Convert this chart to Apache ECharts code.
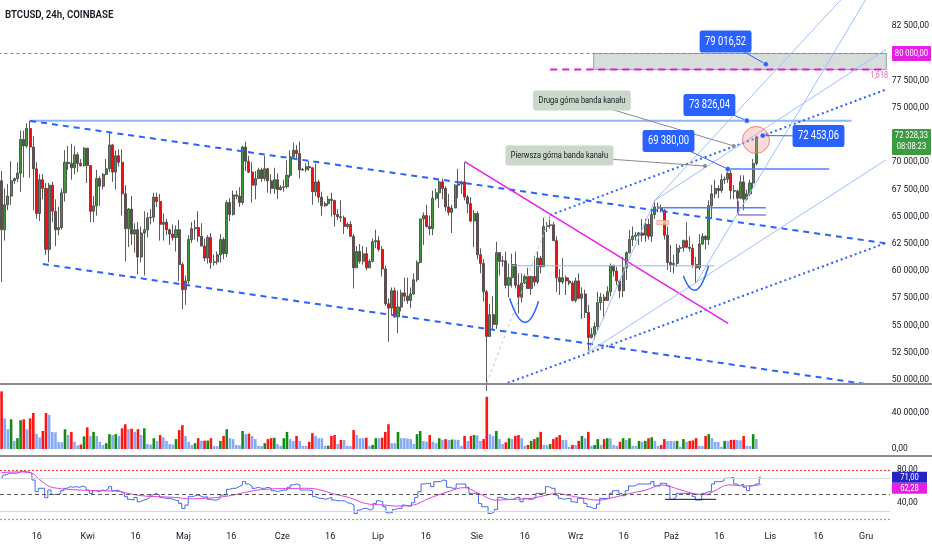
<!DOCTYPE html>
<html><head><meta charset="utf-8">
<script src="https://cdn.jsdelivr.net/npm/echarts@6/dist/echarts.min.js"></script>
<style>html,body{margin:0;padding:0;background:#fff}#c{width:932px;height:550px}</style>
</head><body><div id="c"></div>
<script>
// ---------- DATA ----------
const symbolTitle = 'BTCUSD, 24h, COINBASE';
const totalSlots = 279; // Mar 5 2024 .. Dec 8 2024 (daily slots, incl. empty future)
const monthNames = ['Sty','Lut','Mar','Kwi','Maj','Cze','Lip','Sie','Wrz','Paź','Lis','Gru'];
const priceTicks = [50000,52500,55000,57500,60000,62500,65000,67500,70000,72500,75000,77500,80000,82500];
const volumeTicks = [0,40000];
const rsiTicks = [40,80];
const rsiLevels = [80,70,50,30,20];

// [open, high, low, close] daily, 2024-03-05 .. 2024-10-29
const candles = [
[68300,69200,59000,63800],[63800,67600,62800,66100],[66100,68000,65600,66900],[66900,70100,66100,68300],[68300,68600,68000,68500],
[68500,70000,68200,69000],[69000,72900,67300,72100],[72100,72900,68600,71500],[71500,73600,71300,73100],[73100,73835,68600,71400],
[71400,72400,65600,69400],[69400,70000,64800,65300],[65300,68900,64600,68400],[68400,68900,66600,67600],[67600,68100,61500,62000],
[62000,68100,60800,67900],[67900,68200,64500,65500],[65500,66600,62300,63800],[63800,65900,63300,64000],[64000,67600,63800,67200],
[67200,71100,66400,70000],[70000,71500,69300,69900],[69900,71700,68400,69500],[69500,71500,68900,70700],[70700,70900,69100,69900],
[69900,70300,69600,69700],[69700,71400,69600,71300],
[71300,71300,68100,69700],[69700,69700,64500,65500],[65500,66900,64500,66000],[66000,69300,65100,68500],[68500,68700,66000,67800],
[67800,69000,67500,68900],[68900,70300,68800,69400],[69400,72700,69100,71600],[71600,71700,68200,69100],[69100,71100,67500,70600],
[70600,71200,69600,70000],[70000,71200,65100,67100],[67100,67900,60900,63900],[63900,65800,62200,65700],[65700,66900,62400,63400],
[63400,64400,61700,63800],[63800,64500,59700,61300],[61300,64100,60800,63500],[63500,65500,59600,63800],[63800,65400,63100,64900],
[64900,65700,64300,64950],[64950,67200,64500,66800],[66800,67200,65900,66400],[66400,67100,62800,64300],[64300,65300,62800,64500],
[64500,64800,63300,63800],[63800,63900,62400,63400],[63400,64300,62800,63100],[63100,64200,61800,63800],[63800,64700,59100,60600],
[60600,60800,56500,58300],[58300,59600,56900,59100],[59100,63300,58800,62900],[62900,64500,62600,63900],[63900,64700,62900,64000],
[64000,65500,62700,63200],[63200,64400,62300,62300],[62300,63000,60900,61200],[61200,63300,60700,63100],[63100,63500,60200,60800],
[60800,61500,60500,60850],[60850,61800,60600,61500],[61500,63400,60800,62900],[62900,63100,61100,61600],[61600,66500,61300,66300],
[66300,66700,64600,65200],[65200,67400,65100,67000],[67000,67400,66600,66900],[66900,67700,65900,66300],[66300,71500,66100,71400],
[71400,71900,69200,70100],[70100,70600,69000,69100],[69100,70000,66300,67900],[67900,69200,66600,68500],[68500,69500,68500,69300],
[69300,69500,68200,68500],[68500,70600,68300,69400],[69400,69500,67200,68300],[68300,68900,67100,67600],[67600,69500,67100,68400],
[68400,69000,66600,67500],
[67500,67900,67400,67700],[67700,68400,67300,67750],[67750,70200,67600,68800],[68800,71100,68600,70500],[70500,71800,70400,71100],
[71100,71600,70200,70800],[70800,71900,68500,69300],[69300,69500,69200,69350],[69350,69900,69100,69600],[69600,70100,69200,69500],
[69500,69500,66100,67300],[67300,69900,66900,68200],[68200,68400,66300,66800],[66800,67300,65100,66000],[66000,66400,65900,66200],
[66200,66900,66000,66600],[66600,67200,65000,66500],[66500,66500,64100,65200],[65200,65700,64700,65000],[65000,66500,64500,64900],
[64900,65100,63400,64100],[64100,64500,63900,64300],[64300,64600,63200,63200],[63200,63400,58400,60300],[60300,62300,60300,61800],
[61800,62500,60700,60900],[60900,62300,60600,61600],[61600,62200,60100,60300],[60300,61100,60300,60900],[60900,63000,60800,62700],
[62700,63800,62100,62800],[62800,63200,61800,62000],[62000,62300,59500,60200],[60200,60500,56800,57000],[57000,57500,53500,56600],
[56600,58500,56000,58200],[58200,58500,55700,55800],[55800,58200,54300,56700],[56700,58300,56300,58000],[58000,59400,57200,57700],
[57700,59400,57000,57300],[57300,58500,56600,57900],[57900,59800,57800,59200],[59200,61000,59000,60800],[60800,64800,60700,64800],
[64800,65400,62400,65100],[65100,66100,64000,64100],[64100,65100,63300,63900],[63900,67400,63300,66700],[66700,67600,66500,67200],
[67200,68400,65800,68200],[68200,68500,66600,67600],[67600,67800,65500,65900],[65900,67100,65100,65400],[65400,66100,63500,65800],
[65800,68000,65800,67900],[67900,69400,66700,68000],[68000,68300,67100,68200],[68200,70000,66500,66800],[66800,67000,65300,66200],
[66200,66800,64500,64600],
[64600,65600,62200,65300],[65300,65500,61100,61500],[61500,62100,59800,60700],[60700,61100,57200,58100],[58100,58300,49000,54000],
[54000,57000,54000,56000],[56000,57700,54600,55100],[55100,62700,54700,61700],[61700,61700,59600,60900],[60900,61400,60400,60950],
[60950,61800,58400,58700],[58700,60700,57600,59400],[59400,61600,58500,60600],[60600,61800,58400,58700],[58700,59800,56100,57600],
[57600,59800,57100,58900],[58900,59700,58800,59500],[59500,60300,58400,58400],[58400,59600,57800,59500],[59500,61400,58600,59000],
[59000,61800,58800,61200],[61200,61400,59800,60400],[60400,64900,60400,64100],[64100,64500,63600,64200],[64200,65000,63900,64250],
[64250,64500,62800,62800],[62800,63200,58100,59400],[59400,60200,57800,59000],[59000,61200,58800,59400],[59400,59600,57800,59100],
[59100,59400,58700,58900],
[58900,59100,57200,57300],[57300,59400,57100,59100],[59100,59800,57400,57500],[57500,58500,55600,57900],[57900,58300,55700,56200],
[56200,56900,52600,53900],[53900,54800,53800,54200],[54200,55300,53700,54900],[54900,58100,54600,57100],[57100,58000,56400,57600],
[57600,57900,55600,57300],[57300,58600,57300,58100],[58100,60700,57700,60500],[60500,60600,59500,60000],[60000,60400,58700,59100],
[59100,59200,57500,58200],[58200,61300,57600,60300],[60300,61800,59200,61700],[61700,63800,61600,62900],[62900,64100,62300,63200],
[63200,63600,62800,63300],[63300,63600,62400,63500],[63500,64800,62700,63300],[63300,64800,62700,64300],[64300,64800,62900,63200],
[63200,65800,62700,65200],[65200,66500,64800,65900],[65900,66300,65400,65800],[65800,66100,65400,65600],[65600,65700,62900,63300],
[63300,64100,60100,60800],[60800,62400,59900,60600],[60600,61500,59800,60700],[60700,62500,60400,62100],[62100,62400,61700,62150],
[62150,62900,61800,62800],[62800,64500,62100,62200],[62200,63200,61800,62100],[62100,62500,60300,60600],[60600,61300,58900,60300],
[60300,63400,60100,62500],[62500,63500,62400,63200],[63200,63300,62000,62900],[62900,66500,62400,66000],[66000,67900,64800,67100],
[67100,68400,66700,67600],[67600,67900,66700,67400],[67400,68900,67200,68400],[68400,68700,68000,68450],[68450,69400,68100,69000],
[69000,69400,66600,67400],[67400,67900,66600,67350],[67350,67500,65300,66700],[66700,68800,66600,68200],[68200,68800,65600,66600],
[66600,67500,66500,67100],[67100,68400,66900,68100],[68100,70300,67600,69900],[69900,72453.06,69700,72328.33]
];

const volume = [
64000,34000,22000,33000,9000,12000,32000,33000,22000,34000,
40000,17000,13000,20000,40000,38000,19000,18500,8000,7500,
22000,15500,19000,8000,4000,5000,14000,24000,14500,19000,
14500,8000,4500,6500,16500,15500,16500,14500,23000,27500,
22000,22500,19000,22000,15500,23000,5500,5000,12000,9000,
15500,13000,9000,5500,5000,11000,21000,26500,14500,8000,
4500,6500,12000,9000,9200,9400,12000,3500,3200,9000,
14500,22000,12000,11000,4500,4200,20000,16500,17000,14500,
11000,3500,3300,6500,11000,12000,12500,5500,3500,12000,
19000,11000,9000,14500,9000,3500,3300,8000,17500,14500,
12000,12000,3500,3700,14500,15500,5500,10000,10000,3500,
3300,21000,15500,12000,12000,12500,3500,4500,12000,12000,
12500,19000,27500,6500,6500,19000,12000,12000,11500,11000,
5500,16500,20000,9000,8000,15500,8000,6500,12000,10000,
11000,10000,10500,10500,10000,3500,14500,9000,14500,15500,
15000,9000,11000,58000,16500,14500,20000,11000,5500,7500,
12000,11000,14500,15500,12000,3500,4500,9000,11000,13000,
19000,4500,4300,5500,11000,13000,15500,10000,9800,2500,
4500,4300,9000,14500,12000,19000,3500,4500,11000,4500,
11000,12000,11800,4500,3500,8000,12000,10000,12000,3500,
3300,9000,8000,9000,12000,13000,9000,3500,4500,11000,
9000,8800,8600,9000,2500,11000,8000,9000,9500,12000,
3500,3300,14500,16500,12000,8000,7800,2500,9000,8800,
10000,10200,10000,9500,14500,3500,3300,16500,11000
];

const rsi = [
69.8,73.8,75.8,75.8,75.8,76.6,78.6,77.4,77.4,75.8,
67.7,53.6,57.7,57.7,46.4,55.6,50.4,50.4,51.6,54.8,
57.7,59.7,58.9,59.7,58.9,60.5,58.9,55.6,51.6,54.8,
53.6,55.6,54.8,56.9,59.7,54.8,55.6,53.6,51.6,47.6,
44.4,43.5,46.8,41.5,43.5,44.4,46.8,49.6,51.6,49.6,
46.8,45.6,45.6,44.8,43.5,42.7,39.5,33.5,37.5,47.6,
48.4,49.6,48.4,46.8,47.6,44.4,43.5,43.5,45.6,49.6,
49.6,56.5,57.7,57.7,59.7,61.7,65.7,62.9,60.5,57.7,
58.9,57.7,57.7,58.9,57.7,54.8,53.6,54.8,55.6,55.6,
58.9,61.7,62.9,61.7,55.6,55.6,55.6,54.8,47.6,45.6,
45.6,44.4,45.6,46.8,43.5,42.7,42.7,42.7,40.3,39.5,
37.5,27.4,31.5,33.5,33.5,31.5,33.5,39.5,42.7,41.5,
35.5,28.2,28.2,32.3,33.5,33.5,37.5,36.3,36.3,40.3,
46.8,53.6,62.9,63.7,63.7,59.7,65.7,65.7,67.7,66.9,
58.9,57.7,57.7,62.9,62.9,62.9,58.9,51.6,51.6,51.6,
39.5,35.5,35.5,27.4,29.4,32.3,46.8,45.6,44.4,44.4,
44.4,46.8,46.8,41.5,45.6,44.4,44.4,46.8,51.6,51.6,
51.6,59.7,57.7,57.7,49.6,45.6,44.4,45.6,45.6,41.5,
40.3,45.6,45.6,39.5,35.5,33.5,33.5,38.7,45.6,45.6,
45.6,51.6,54.8,54.8,51.6,48.8,54.8,60.5,60.5,62.9,
62.9,62.9,62.9,62.9,65.7,60.5,60.5,63.7,63.7,60.5,
44.4,46.8,51.6,51.6,51.6,51.6,51.6,47.6,43.5,43.5,
51.6,53.6,53.6,62.9,65.7,65.7,66.9,69.8,69.8,71.0,
62.9,60.5,62.9,58.9,54.8,60.5,62.9,62.9,71.0
];

// RSI moving average, read at sample days
const rsiMaDays = [0,5,9,12,15,18,21,25,29,33,37,41,45,50,55,59,63,67,71,75,79,83,87,91,95,99,104,109,114,120,124,129,134,140,145,147,150,155,160,166,171,174,177,181,187,192,197,202,207,213,218,221,223,228,234,238];
const rsiMaValues = [76.6,77.4,76.6,68,60,57.5,56.5,55.5,55,54.6,53.8,50.5,48.4,47.5,46.5,45,45.6,46.5,48.4,51.6,54.8,56.5,57.3,57.5,57.7,56.5,51,46.5,39.5,37.5,36.3,37.5,45.6,53.6,58.5,56.5,50.8,43.5,44.4,45.6,49.6,51.6,49.6,46.8,43.5,46.8,51.6,55.6,61.7,55.6,50.8,50.4,53.6,61.7,60.5,62.28];

const lastPrice = 72328.33, countdown = '08:08:23';
const rsiLast = 71.00, rsiMaLast = 62.28;
const fibLevel = 80000, fibLabel = '1,618';

// drawings, in [day index, price]
const athLine = [[9,73826.04],[268,73826.04]];
const level69380 = [[229,69380],[261,69380]];
const channelUpper = [[9,73800],[279,62550]];
const channelLower = [[13,60650],[273,49600]];
const bandUpper = [[173,65150],[279,76700]];
const bandLower = [[159.6,49720],[279,62600]];
const magentaTrend = [[146,70055],[229.1,55204]];
const level80000 = [[-1,80000],[279,80000]];
const fib1618 = [[173,78530],[279,78530]];
const level60490 = [[160.5,60490],[224.8,60490]];
const level65830 = [[206.6,65830],[241,65830]];
const purpleBox = [[232.3,66440],[232.3,65157],[241,65157]];
const fanLines = [
  [[185,52550],[279,70250]],
  [[206,66500],[279,80400]],
  [[219,58900],[272.4,84915]],
  [[206,66500],[264.6,84915]],
  [[185,52550],[206,66500]]
];
const grayGuide = [[153,49700],[173,65000]];
const zone = {d1:186.7, d2:279, p1:78530, p2:80000};
const hotCircle = [237.9,72050];
const cups = [
  [[160.2,57514],[164.9,55308],[169.3,57238]],
  [[215,59557],[219,58270],[222.9,60476]]
];
const smallTag = [208.5,64460];
const blueCallouts = [
  {text:'79 016,52', point:[241,79016.52], box:[228.3,81100]},
  {text:'73 826,04', point:[235,73826.04], box:[223.2,75266]},
  {text:'69 380,00', point:[229,69380], box:[210.3,71957]},
  {text:'72 453,06', point:[240,72453.06], box:[257.6,72417]}
];
const noteCallouts = [
  {text:'Druga górna banda kanału', point:[230.9,71500], box:[183,75680]},
  {text:'Pierwsza górna banda kanału', point:[221.8,69660], box:[175.9,70625]}
];
const rsiFloor = [[208,44.4],[224,44.4]];

// ---------- BUILD ----------
const dates = [];
(function(){ const t0 = Date.UTC(2024,2,5); for (let i=0;i<totalSlots;i++) dates.push(new Date(t0+i*86400000).toISOString().slice(0,10)); })();
function fmt(v){ const s = Number(v).toFixed(2).split('.'); return s[0].replace(/\B(?=(\d{3})+(?!\d))/g,' ') + ',' + s[1]; }
function dateLabel(v){ const d = +v.slice(8), m = +v.slice(5,7); return d===1 ? monthNames[m-1] : (d===16 ? '16' : ''); }
const FONT = "'Roboto',sans-serif";
const TXT = '#131722';
const NARROW = 0.8; // horizontal squeeze to mimic the condensed UI font

const candleData = candles.map(c => [c[0], c[3], c[2], c[1]]);

function seg(points, lineStyle, z){
  return {type:'line', xAxisIndex:1, yAxisIndex:0, data:points, symbol:'none', silent:true,
          animation:false, lineStyle:lineStyle, z:z||3, clip:true};
}

const series = [
  {type:'candlestick', xAxisIndex:0, yAxisIndex:0, data:candleData, barWidth:'80%',
   itemStyle:{color:'#3c9a3c', color0:'#f01010', borderColor:'#4a4a4a', borderColor0:'#4a4a4a', borderWidth:0.9}, z:2},
  seg(athLine, {color:'#8cb6f8', width:2}),
  seg(level69380, {color:'#4f84f7', width:1.5}),
  seg(channelUpper, {color:'#2962ff', width:2, type:[6,5]}),
  seg(channelLower, {color:'#2962ff', width:2, type:[6,5]}),
  seg(bandUpper, {color:'#2962ff', width:2, type:[2,3]}),
  seg(bandLower, {color:'#2962ff', width:2, type:[2,3]}),
  seg(magentaTrend, {color:'#e81ee6', width:1.5}),
  seg(level80000, {color:'#d64ad6', width:1, type:[3,3]}),
  seg(fib1618, {color:'#e01fd0', width:2, type:[7,5]}),
  seg(level60490, {color:'#8cb6f8', width:1}),
  seg(level65830, {color:'#4f84f7', width:1.5}),
  seg(purpleBox, {color:'#5e3fa8', width:1}),
  seg(grayGuide, {color:'#c8c8c8', width:1, type:[3,3]})
].concat(fanLines.map(f => seg(f, {color:'#9cc0fa', width:1})));

series.push({type:'bar', xAxisIndex:2, yAxisIndex:1, data:volume, barWidth:'82%', animation:false,
  itemStyle:{color: p => { const i = p.dataIndex; const up = candles[i][3] >= candles[i][0];
     if (i===0 || volume[i] > volume[i-1]) return up ? '#168a16' : '#ff1414'; return '#86aaf7'; }}});

series.push({type:'line', xAxisIndex:3, yAxisIndex:2, data:rsi, step:'middle', symbol:'none', animation:false,
  lineStyle:{color:'#4169f0', width:1}, z:3,
  markLine:{silent:true, symbol:['none','none'], label:{show:false}, animation:false,
    data:[
      {yAxis:rsiLevels[0], lineStyle:{color:'#f23645', type:[2,2], width:1.2}},
      {yAxis:rsiLevels[1], lineStyle:{color:'#d6d6d6', type:'solid', width:1}},
      {yAxis:rsiLevels[2], lineStyle:{color:'#555', type:[4,3], width:1.2}},
      {yAxis:rsiLevels[3], lineStyle:{color:'#d6d6d6', type:'solid', width:1}},
      {yAxis:rsiLevels[4], lineStyle:{color:'#3ee03e', type:[2,2], width:1.2}}
    ]}});
series.push({type:'line', xAxisIndex:3, yAxisIndex:2, data:rsiMaDays.map((d,i)=>[d, rsiMaValues[i]]),
  smooth:0.4, symbol:'none', animation:false, lineStyle:{color:'#e040e6', width:1}, z:4});
series.push({type:'line', xAxisIndex:3, yAxisIndex:2, data:rsiFloor, symbol:'none', animation:false,
  lineStyle:{color:'#131722', width:1}, z:5});

const hiddenCat = gi => ({type:'category', gridIndex:gi, data:dates, boundaryGap:true, show:false});
const yBase = (gi, min, max, ticks) => ({type:'value', gridIndex:gi, position:'right', min:min, max:max, scale:true,
  splitLine:{show:false}, axisLine:{show:false}, axisTick:{show:false},
  axisLabel:{customValues:ticks, formatter:fmt, fontSize:8.5, color:TXT, margin:7, fontFamily:FONT}});

const option = {
  animation:false,
  backgroundColor:'#ffffff',
  grid:[
    {left:0, right:42, top:0, height:384},
    {left:0, right:42, top:385, height:70},
    {left:0, right:42, top:457, height:68}
  ],
  xAxis:[
    hiddenCat(0),
    {type:'value', gridIndex:0, min:-0.5, max:totalSlots-0.5, show:false},
    hiddenCat(1),
    {type:'category', gridIndex:2, data:dates, boundaryGap:true,
     axisLine:{show:false}, axisTick:{show:false}, splitLine:{show:false}, axisLabel:{show:false}}
  ],
  yAxis:[
    yBase(0, 49626, 84915, priceTicks),
    yBase(1, -6667, 71111, volumeTicks),
    yBase(2, 13.5, 95.4, rsiTicks)
  ],
  series:series
};

const chart = echarts.init(document.getElementById('c'));
chart.setOption(option);

// ---------- ANNOTATIONS (positioned through the chart's own scales) ----------
const P = pt => chart.convertToPixel({xAxisIndex:1, yAxisIndex:0}, pt);
const pyPrice = v => chart.convertToPixel({xAxisIndex:1, yAxisIndex:0}, [0, v])[1];
const pyRsi = v => chart.convertToPixel({xAxisIndex:3, yAxisIndex:2}, [0, v])[1];
const g = [];
// time axis labels (placed via the category axis scale)
dates.forEach((v, i) => { const t = dateLabel(v); if (!t) return;
  const x = chart.convertToPixel({xAxisIndex:3}, i);
  g.push({type:'text', x:x, y:537, style:{text:t, fill:TXT, font:"9px "+FONT, align:'center', verticalAlign:'middle'}, z:40, silent:true}); });
// pane separators
g.push({type:'rect', shape:{x:0, y:383, width:932, height:2}, style:{fill:'#8c8c8c'}, z:50, silent:true});
g.push({type:'rect', shape:{x:0, y:455, width:932, height:2}, style:{fill:'#8c8c8c'}, z:50, silent:true});
// title
g.push({type:'text', x:5, y:15, scaleX:0.92, style:{text:symbolTitle, fill:TXT, font:"600 10.5px 'Roboto',sans-serif", verticalAlign:'middle'}, z:60});
// zone
(function(){ const a = P([zone.d1, zone.p2]), b = P([zone.d2, zone.p1]);
  g.push({type:'rect', shape:{x:a[0], y:a[1], width:Math.min(b[0],890)-a[0], height:b[1]-a[1]},
    style:{fill:'rgba(200,210,205,0.75)', stroke:'#9aa39f', lineWidth:1}, z:1, silent:true}); })();
// 1,618 text
(function(){ const y = pyPrice(fib1618[0][1]);
  g.push({type:'text', x:888, y:y+2, scaleX:NARROW, style:{text:fibLabel, fill:'#ee5fb0', font:"9px "+FONT, align:'right', verticalAlign:'top'}, z:20}); })();
// circle
(function(){ const c = P(hotCircle);
  g.push({type:'circle', shape:{cx:c[0], cy:c[1], r:13.5}, style:{fill:'rgba(246,150,140,0.35)', stroke:'rgba(236,110,100,0.8)', lineWidth:1}, z:10, silent:true}); })();
// cups
cups.forEach(cp => { const s = P(cp[0]), b = P(cp[1]), e = P(cp[2]);
  const cx = 2*b[0] - (s[0]+e[0])/2, cy = 2*b[1] - (s[1]+e[1])/2;
  g.push({type:'bezierCurve', shape:{x1:s[0], y1:s[1], x2:e[0], y2:e[1], cpx1:cx, cpy1:cy}, style:{stroke:'#2962ff', lineWidth:1.5, fill:null}, z:10, silent:true}); });
// small tag
(function(){ const c = P(smallTag);
  g.push({type:'rect', shape:{x:c[0]-6, y:c[1]-2, width:12, height:4}, style:{fill:'rgba(250,210,190,0.8)', stroke:'#f3a58a', lineWidth:0.8}, z:10, silent:true}); })();
// note callouts
noteCallouts.forEach(n => { const p = P(n.point), b = P(n.box);
  g.push({type:'line', shape:{x1:b[0], y1:b[1], x2:p[0], y2:p[1]}, style:{stroke:'#8a8a8a', lineWidth:1}, z:11, silent:true});
  g.push({type:'circle', shape:{cx:p[0], cy:p[1], r:2}, style:{fill:'#8a8a8a'}, z:12, silent:true});
  g.push({type:'text', x:b[0], y:b[1], scaleX:0.78, style:{text:n.text, fill:TXT, font:"9.5px "+FONT, align:'center', verticalAlign:'middle',
     backgroundColor:'#c9d8c9', padding:[5,7], borderRadius:3}, z:13, silent:true}); });
// blue callouts
blueCallouts.forEach(n => { const p = P(n.point), b = P(n.box);
  g.push({type:'line', shape:{x1:b[0], y1:b[1], x2:p[0], y2:p[1]}, style:{stroke:'#2962ff', lineWidth:1}, z:14, silent:true});
  g.push({type:'circle', shape:{cx:p[0], cy:p[1], r:2.6}, style:{fill:'#2962ff', stroke:'#fff', lineWidth:0.5}, z:15, silent:true});
  g.push({type:'text', x:b[0], y:b[1], scaleX:0.78, style:{text:n.text, fill:'#ffffff', font:"12px "+FONT, align:'center', verticalAlign:'middle',
     backgroundColor:'#2962ff', padding:[5,7], borderRadius:3}, z:16, silent:true}); });
// axis boxes
(function(){
  const yp = pyPrice(lastPrice);
  g.push({type:'rect', shape:{x:892, y:yp-8, width:39, height:26, r:1}, style:{fill:'#3d9a40'}, z:30});
  g.push({type:'text', x:911.5, y:yp-1, scaleX:NARROW, style:{text:fmt(lastPrice), fill:'#fff', font:"9.5px "+FONT, align:'center', verticalAlign:'middle'}, z:31});
  g.push({type:'text', x:911.5, y:yp+10, scaleX:NARROW, style:{text:countdown, fill:'#fff', font:"9.5px "+FONT, align:'center', verticalAlign:'middle'}, z:31});
  const y8 = pyPrice(fibLevel);
  g.push({type:'rect', shape:{x:892, y:y8-7.5, width:39, height:15, r:1}, style:{fill:'#e61ee6'}, z:30});
  g.push({type:'text', x:911.5, y:y8, scaleX:NARROW, style:{text:fmt(fibLevel), fill:'#fff', font:"9.5px "+FONT, align:'center', verticalAlign:'middle'}, z:31});
  const yr = pyRsi(rsiLast);
  g.push({type:'rect', shape:{x:892, y:yr-5.5, width:35, height:11}, style:{fill:'#2424c4'}, z:30});
  g.push({type:'text', x:909.5, y:yr, scaleX:NARROW, style:{text:fmt(rsiLast), fill:'#fff', font:"9.5px "+FONT, align:'center', verticalAlign:'middle'}, z:31});
  g.push({type:'rect', shape:{x:892, y:yr+5.5, width:35, height:11}, style:{fill:'#e61ee6'}, z:30});
  g.push({type:'text', x:909.5, y:yr+11, scaleX:NARROW, style:{text:fmt(rsiMaLast), fill:'#fff', font:"9.5px "+FONT, align:'center', verticalAlign:'middle'}, z:31});
})();
chart.setOption({graphic:g});
</script></body></html>
